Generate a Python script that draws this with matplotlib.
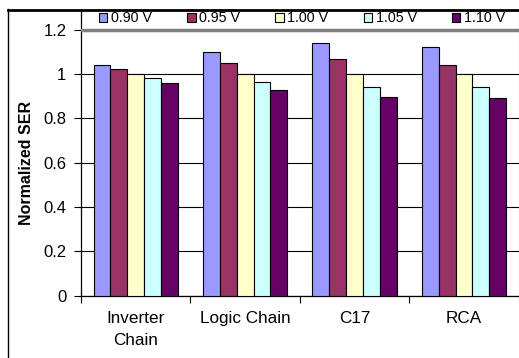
import matplotlib
matplotlib.use('Agg')
import matplotlib.pyplot as plt
import numpy as np
from matplotlib.lines import Line2D

plt.rc('font', family=['Liberation Sans', 'DejaVu Sans'])

# data
categories = ['Inverter\nChain', 'Logic Chain', 'C17', 'RCA']
voltages = ['0.90 V', '0.95 V', '1.00 V', '1.05 V', '1.10 V']
ser_090 = [1.039, 1.101, 1.141, 1.123]
ser_095 = [1.023, 1.050, 1.066, 1.039]
ser_100 = [1.000, 1.000, 1.000, 1.000]
ser_105 = [0.983, 0.962, 0.943, 0.940]
ser_110 = [0.958, 0.929, 0.895, 0.890]
series = [ser_090, ser_095, ser_100, ser_105, ser_110]
colors = ['#9999FF', '#993366', '#FFFFCC', '#CCFFFF', '#660066']

W, H = 519, 358
fig = plt.figure(figsize=(W/100, H/100), dpi=100)
ax = fig.add_axes([81/W, 62.5/H, (518.7-81)/W, 286.5/H])

x = np.arange(len(categories))
w = 1/6.5
for i, (vals, c) in enumerate(zip(series, colors)):
    ax.bar(x + (i-2)*w, vals, w, color=c, edgecolor='black', linewidth=0.8,
           label=voltages[i], zorder=3)

ytop = 1.2*286.5/265.8
ax.set_xlim(-0.5, 3.5)
ax.set_ylim(0, ytop)
ax.set_yticks([0, 0.2, 0.4, 0.6, 0.8, 1.0, 1.2])
ax.set_yticklabels(['0', '0.2', '0.4', '0.6', '0.8', '1', '1.2'], fontsize=12)
ax.yaxis.grid(True, color='black', linewidth=0.8, zorder=0)
ax.axhline(1.2, color='#808080', linewidth=2.5, zorder=4)
ax.tick_params(axis='y', length=5, width=0.8, direction='out', pad=5.5)

ax.set_xticks(x)
ax.set_xticklabels(categories, fontsize=12.3, linespacing=1.6)
ax.set_xticks(np.arange(-0.5, 3.6, 1), minor=True)
ax.tick_params(axis='x', which='major', length=0, pad=11)
ax.tick_params(axis='x', which='minor', length=5, width=0.8, direction='out')

ax.spines['top'].set_visible(False)
ax.spines['right'].set_color('#808080')
ax.spines['left'].set_linewidth(0.9)
ax.spines['bottom'].set_linewidth(0.9)

ax.set_ylabel('Normalized SER', fontsize=11.5, fontweight='bold')
ax.yaxis.set_label_coords((34.3-81)/437.7, 0.6/ytop)

fig.legend(loc='center', bbox_to_anchor=(302/W, 1 - 18.5/H), ncol=5, frameon=False,
           fontsize=10.3, handlelength=0.6, handleheight=0.6, handletextpad=0.25,
           columnspacing=2.45, borderaxespad=0)

# outer chart frame
fig.add_artist(Line2D([8/W, 8/W], [0, 1 - 9/H], color='black', linewidth=1.0,
                      transform=fig.transFigure))
fig.add_artist(Line2D([8/W, 1], [1 - 9.5/H, 1 - 9.5/H], color='black', linewidth=2.0,
                      transform=fig.transFigure))

fig.savefig('out.png', dpi=100)
